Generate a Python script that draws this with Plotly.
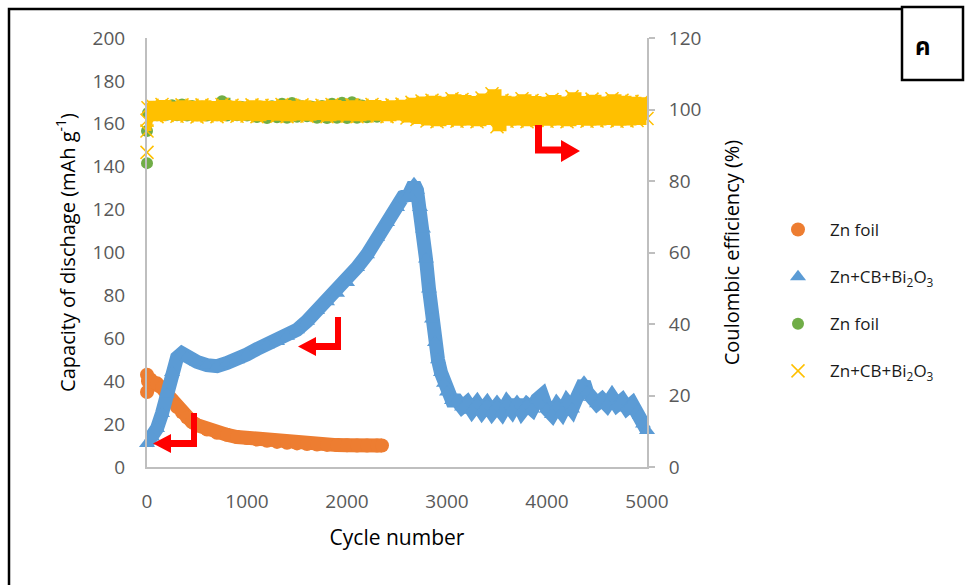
import plotly.graph_objects as go

# ---- discharge capacity (mAh g-1) vs cycle number ----
orange_cyc = [0, 0, 10, 30, 60, 100, 150, 200, 250, 300, 350, 400, 450, 500, 600, 700, 800,
              900, 1000, 1100, 1200, 1300, 1400, 1500, 1600, 1700, 1800, 1900, 2000, 2100,
              2200, 2300, 2350]
orange_cap = [43, 35, 40, 41, 39.5, 39, 37, 34, 31, 28, 25.5, 23, 21, 19.5, 17.5, 16, 15,
              14, 13.5, 12.8, 12.2, 11.7, 11.3, 11, 10.7, 10.5, 10.3, 10.2, 10.1, 10,
              10, 10, 10]

blue_cyc = [0, 50, 100, 150, 200, 250, 300, 350, 400, 500, 600, 700, 800, 900, 1000, 1100,
            1200, 1300, 1400, 1500, 1600, 1700, 1800, 1900, 2000, 2100, 2200, 2300, 2400,
            2500, 2560, 2620, 2670, 2700, 2730, 2760, 2790, 2820, 2850, 2880, 2910, 2940,
            2970, 3000, 3050, 3100, 3150, 3200, 3250, 3300, 3350, 3400, 3450, 3500, 3550,
            3600, 3650, 3700, 3750, 3800, 3850, 3900, 3950, 4000, 4050, 4100, 4150, 4200,
            4250, 4300, 4350, 4370, 4400, 4450, 4500, 4550, 4600, 4650, 4700, 4750, 4800,
            4850, 4900, 4930, 4960, 5000]
blue_cap = [11, 14, 18, 25, 34, 44, 51, 53, 51, 49, 47.5, 47, 48.5, 50, 52.5, 55,
            57, 58.5, 61, 64, 68, 73, 77, 81, 86, 93, 99, 107, 114,
            121, 126, 127, 132, 129, 121, 111, 97, 83, 69, 58, 50, 44,
            39, 35, 31, 31, 28, 30, 26.5, 29.5, 26, 29, 25.5, 28.5, 25.5,
            29.5, 26.5, 30.5, 26, 29, 27, 31.5, 33.5, 27, 24.5, 28.5, 25.5, 30,
            27, 32.5, 36.5, 39.5, 35, 32.5, 29.5, 31.5, 29, 32.5, 29, 31, 27.5,
            29.5, 26, 24, 20, 17]

# ---- coulombic efficiency (%) vs cycle number ----
green_cyc = [0, 0, 10] + list(range(50, 2301, 50))
green_ce = [85, 94, 99,
            100.6, 98.4, 100.8, 98.5, 101.2, 98.4, 101.4, 98.3, 101.0, 98.4,
            100.8, 98.3, 100.7, 98.4, 102.3, 98.3, 100.8, 98.4, 100.7, 98.3,
            100.7, 97.9, 100.8, 97.6, 100.9, 97.8, 101.6, 97.7, 101.8, 98.0,
            100.9, 98.1, 100.8, 97.7, 101.0, 97.6, 101.6, 97.7, 101.9, 97.6,
            102.0, 97.7, 101.1, 97.8, 100.9, 98.0]

yellow_cyc = [0, 0, 0, 10] + list(range(50, 5001, 50))
yellow_ce = [88, 94, 97, 100.5,
             101.2, 98.0, 101.4, 98.3, 101.0, 98.1, 101.3, 98.2, 101.2, 97.9,
             101.3, 98.2, 101.1, 98.0, 101.4, 98.3, 101.2, 98.1, 101.0, 98.2,
             101.3, 98.0, 101.2, 98.3, 101.1, 98.1, 101.4, 98.0, 101.2, 98.2,
             101.3, 98.1, 101.0, 98.3, 101.2, 98.0, 101.4, 98.2, 101.1, 98.1,
             101.3, 98.0, 101.2, 98.2, 101.4, 98.1, 101.1, 98.0, 101.3, 98.2,
             101.5, 97.6,
             102.0, 97.2, 102.4, 96.8, 102.6, 96.6, 102.3, 96.9, 103.0, 96.7,
             102.8, 96.8, 102.5, 96.6, 103.2, 96.9, 104.4, 95.2, 102.6, 96.7,
             102.4, 96.8, 103.0, 96.6, 102.5, 96.9, 102.3, 96.7, 102.8, 96.8,
             102.4, 96.6, 103.6, 96.9, 102.5, 96.7, 102.9, 96.8, 102.4, 96.9,
             103.0, 96.7, 102.6, 96.8, 102.3, 96.9, 102.2, 97.5]

x_ticks = [0, 1000, 2000, 3000, 4000, 5000]

ORANGE, BLUE, GREEN, YELLOW = "#ED7D31", "#5B9BD5", "#70AD47", "#FFC000"
AXIS_GREY, TICK_GREY = "#BFBFBF", "#595959"
FONT = "Open Sans, Lato, sans-serif"
SUB = "Zn+CB+Bi<sub>2</sub>O<sub>3</sub>"

fig = go.Figure()

# capacity, Zn foil
fig.add_trace(go.Scatter(x=orange_cyc, y=orange_cap, mode="lines", line=dict(color=ORANGE, width=14),
                         showlegend=False, legendgroup="a", hoverinfo="skip", cliponaxis=False))
fig.add_trace(go.Scatter(x=orange_cyc, y=orange_cap, mode="markers", name="Zn foil", legendgroup="a",
                         marker=dict(symbol="circle", size=14, color=ORANGE), cliponaxis=False))
# capacity, Zn+CB+Bi2O3
fig.add_trace(go.Scatter(x=blue_cyc, y=blue_cap, mode="lines", line=dict(color=BLUE, width=14),
                         showlegend=False, legendgroup="b", hoverinfo="skip", cliponaxis=False))
fig.add_trace(go.Scatter(x=blue_cyc, y=blue_cap, mode="markers", name=SUB, legendgroup="b",
                         marker=dict(symbol="triangle-up", size=14, color=BLUE), cliponaxis=False))
# coulombic efficiency, Zn foil
fig.add_trace(go.Scatter(x=green_cyc[2:], y=green_ce[2:], mode="lines", yaxis="y2",
                         line=dict(color=GREEN, width=7, shape="hv"),
                         showlegend=False, legendgroup="c", hoverinfo="skip", cliponaxis=False))
fig.add_trace(go.Scatter(x=green_cyc, y=green_ce, mode="markers", name="Zn foil", legendgroup="c",
                         yaxis="y2", marker=dict(symbol="circle", size=12, color=GREEN), cliponaxis=False))
# coulombic efficiency, Zn+CB+Bi2O3
fig.add_trace(go.Scatter(x=yellow_cyc[1:], y=yellow_ce[1:], mode="lines", yaxis="y2",
                         line=dict(color=YELLOW, width=9, shape="hv"),
                         showlegend=False, legendgroup="d", hoverinfo="skip", cliponaxis=False))
fig.add_trace(go.Scatter(x=yellow_cyc, y=yellow_ce, mode="markers", name=SUB, legendgroup="d",
                         yaxis="y2", cliponaxis=False,
                         marker=dict(symbol="x-thin", size=13, color=YELLOW,
                                     line=dict(width=1.5, color=YELLOW))))

# plot-area pixel frame used to place the decorations
L, R, T, B = 147, 647, 38, 467


def px(x):
    return (x - L) / (R - L)


def py(y):
    return (B - y) / (B - T)


def poly(points):
    return "M " + " L ".join(f"{px(x):.5f},{py(y):.5f}" for x, y in points) + " Z"


arrows = [
    [(197, 413), (197, 447), (171, 447), (171, 453), (153, 443.5), (171, 434), (171, 440), (191, 440), (191, 413)],
    [(341, 317), (341, 350), (316, 350), (316, 356), (298, 346.5), (316, 337), (316, 343), (335, 343), (335, 317)],
    [(535, 125), (542, 125), (542, 146.5), (561, 146.5), (561, 140), (580, 151), (561, 162), (561, 153.5), (535, 153.5)],
]
shapes = [dict(type="path", xref="paper", yref="paper", path=poly(a), fillcolor="#FF0000",
               line=dict(width=0)) for a in arrows]
# outer frame and the label box
shapes.append(dict(type="path", xref="paper", yref="paper",
                   path=f"M {px(9)},{py(590)} L {px(9)},{py(9)} L {px(902)},{py(9)}",
                   line=dict(color="black", width=2.5)))
shapes.append(dict(type="rect", xref="paper", yref="paper", x0=px(902), x1=px(963), y0=py(80), y1=py(7),
                   line=dict(color="black", width=2.5), fillcolor="white"))

axis_common = dict(showgrid=False, zeroline=False, showline=True, linecolor=AXIS_GREY, linewidth=2,
                   tickfont=dict(size=19, color=TICK_GREY, family=FONT))

fig.update_layout(
    width=965, height=585,
    margin=dict(l=L, r=965 - R, t=T, b=585 - B),
    paper_bgcolor="white", plot_bgcolor="white",
    font=dict(family=FONT, color="#1a1a1a"),
    xaxis=dict(range=[0, 5000], tickvals=x_ticks, ticks="", ticklabelstandoff=16,
               title=dict(text="Cycle number", font=dict(size=21, color="black"), standoff=18),
               **axis_common),
    yaxis=dict(range=[0, 200], dtick=20, ticks="", ticklabelstandoff=16,
               title=dict(text="Capacity of dischage (mAh g<sup>-1</sup>)", font=dict(size=20, color="black"),
                          standoff=12),
               **axis_common),
    yaxis2=dict(range=[0, 120], dtick=20, overlaying="y", side="right", anchor="x",
                ticks="outside", ticklen=6, tickwidth=2, tickcolor=AXIS_GREY, ticklabelstandoff=10,
                title=dict(text="Coulombic efficiency (%)", font=dict(size=20, color="black"), standoff=25),
                **axis_common),
    legend=dict(x=px(766), y=py(212), xanchor="left", yanchor="top", itemwidth=54,
                tracegroupgap=22, font=dict(size=17, color="#1a1a1a", family=FONT),
                bgcolor="rgba(0,0,0,0)"),
    shapes=shapes,
    annotations=[dict(text="<b>ค</b>", x=px(933), y=py(28), xref="paper", yref="paper", showarrow=False,
                      font=dict(size=24, color="black", family="Noto Sans Thai, DejaVu Sans, sans-serif"))],
)

fig.write_html("out.html")
